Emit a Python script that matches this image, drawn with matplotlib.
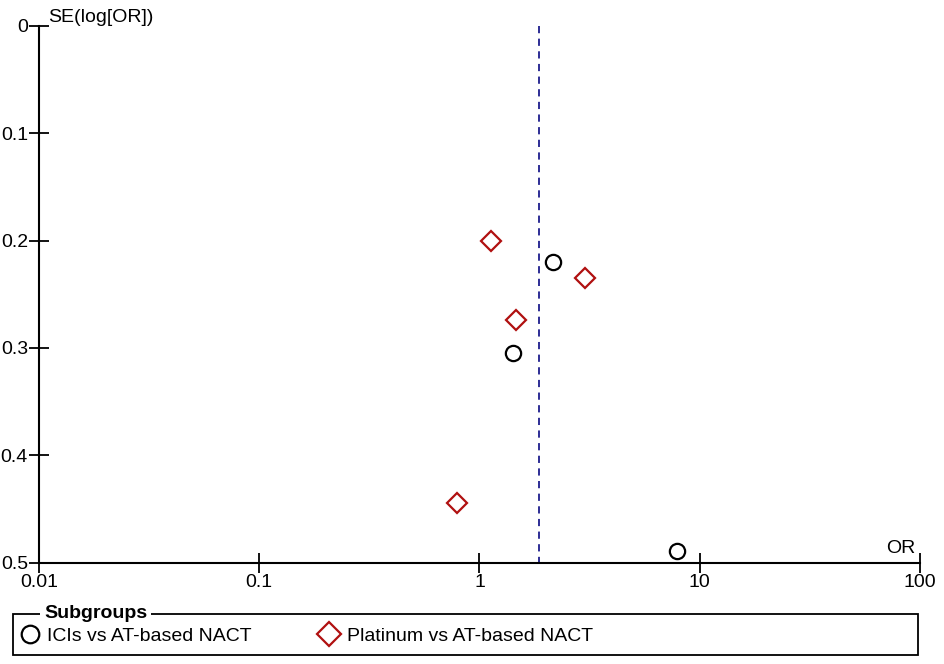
import matplotlib
matplotlib.use("Agg")
import matplotlib.pyplot as plt
from matplotlib.patches import Rectangle

# Data
ici_or = [2.16, 1.42, 7.9]
ici_se = [0.220, 0.305, 0.489]
plat_or = [1.13, 3.01, 1.47, 0.79]
plat_se = [0.200, 0.235, 0.274, 0.445]
pooled_or = 1.86
xticks = [0.01, 0.1, 1, 10, 100]
xticklabels = ["0.01", "0.1", "1", "10", "100"]
yticks = [0, 0.1, 0.2, 0.3, 0.4, 0.5]
yticklabels = ["0", "0.1", "0.2", "0.3", "0.4", "0.5"]
labels = ["ICIs vs AT-based NACT", "Platinum vs AT-based NACT"]

plt.rcParams["font.family"] = ["Liberation Sans", "DejaVu Sans"]
fs = 14

W, H = 945, 664
fig = plt.figure(figsize=(9.45, 6.64), dpi=100)
ax = fig.add_axes([39/W, 1-562.5/H, (920-39)/W, (562.5-26)/H])
ax.set_xscale("log")
ax.set_xlim(0.01, 100)
ax.set_ylim(0.5, 0)

ax.plot([pooled_or, pooled_or], [0, 0.5], color="#1c1c8c", lw=1.3,
        dashes=(4, 3))
h1, = ax.plot(ici_or, ici_se, linestyle="none", marker="o", ms=11,
              mfc="none", mec="black", mew=1.6, label=labels[0])
h2, = ax.plot(plat_or, plat_se, linestyle="none", marker="D", ms=10.5,
              mfc="none", mec="#b01010", mew=1.6, label=labels[1])

for s in ["top", "right"]:
    ax.spines[s].set_visible(False)
ax.spines["left"].set_linewidth(1.5)
ax.spines["bottom"].set_linewidth(1.5)
ax.set_xticks(xticks)
ax.set_xticklabels(xticklabels)
ax.minorticks_off()
ax.set_yticks(yticks)
ax.set_yticklabels(yticklabels)
ax.tick_params(direction="inout", length=14, width=1.3, labelsize=fs,
               colors="black", pad=1)

fig.text(48/W, 1-17/H, "SE(log[OR])", fontsize=fs, ha="left", va="center")
ax.text(0.995, 0.01, "OR", transform=ax.transAxes, fontsize=fs,
        ha="right", va="bottom")

# legend box
fig.patches.append(Rectangle((13/W, 1-655/H), (918-13)/W, (655-614)/H,
                             transform=fig.transFigure, fill=False,
                             edgecolor="black", lw=1.3))
fig.text(44/W, 1-614/H, "Subgroups", fontsize=fs, fontweight="bold",
         ha="left", va="center",
         bbox=dict(facecolor="white", edgecolor="none", pad=3))
leg1 = fig.legend(handles=[h1], loc="center left",
                  bbox_to_anchor=(20/W, 1-636/H), frameon=False,
                  fontsize=fs, handlelength=1.0, handletextpad=0.4,
                  borderpad=0, borderaxespad=0, markerscale=1.15)
leg2 = fig.legend(handles=[h2], loc="center left",
                  bbox_to_anchor=(319/W, 1-636/H), frameon=False,
                  fontsize=fs, handlelength=1.0, handletextpad=0.45,
                  borderpad=0, borderaxespad=0, markerscale=1.2)

fig.savefig("out.png", dpi=100)
